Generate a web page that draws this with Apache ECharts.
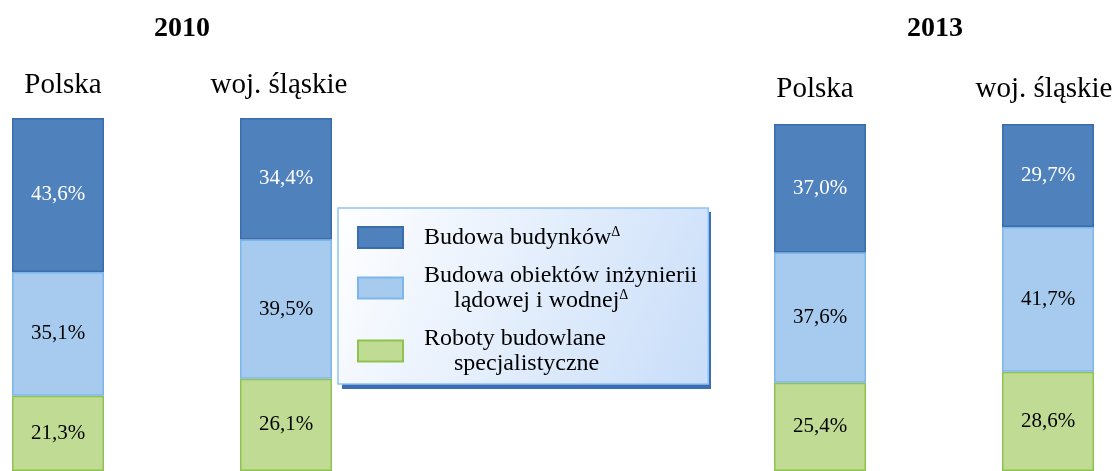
<!DOCTYPE html>
<html>
<head>
<meta charset="utf-8">
<script src="https://cdn.jsdelivr.net/npm/echarts@6/dist/echarts.min.js"></script>
<style>
  html, body { margin: 0; padding: 0; background: #ffffff; }
  #chart { width: 1116px; height: 471px; }
</style>
</head>
<body>
<div id="chart"></div>
<script>
// Datos (porcentajes)
const anios = ['2010', '2013'];
const regiones = ['Polska', 'woj. śląskie', 'Polska', 'woj. śląskie'];
const budynki = [43.6, 34.4, 37.0, 29.7];
const inzynieria = [35.1, 39.5, 37.6, 41.7];
const especializadas = [21.3, 26.1, 25.4, 28.6];

const nombres = [
  'Budowa budynków',
  'Budowa obiektów inżynierii lądowej i wodnej',
  'Roboty budowlane specjalistyczne'
];

let chart = null;

document.addEventListener('DOMContentLoaded', function() {
  initChart();
});

/**
 * Inicializar gráfico
 */
function initChart() {
  chart = echarts.init(document.getElementById('chart'), null, { renderer: 'canvas' });

  const fuente = 'Liberation Serif, Times New Roman, serif';

  // posición de cada columna (una rejilla por columna)
  const rejillas = [
    { left: 12, top: 118, height: 354, desplaz: 5, margen: 18 },
    { left: 240, top: 118, height: 354, desplaz: -7, margen: 18 },
    { left: 774, top: 124, height: 355, desplaz: -5, margen: 20 },
    { left: 1002, top: 124, height: 355, desplaz: -4, margen: 20 }
  ];

  const estilos = [
    { nombre: nombres[2], datos: especializadas, color: '#c0dc94', borde: '#8fc24f', texto: '#000000' },
    { nombre: nombres[1], datos: inzynieria, color: '#a7cbef', borde: '#7db6ea', texto: '#000000' },
    { nombre: nombres[0], datos: budynki, color: '#4f81bd', borde: '#3a6cb0', texto: '#ffffff' }
  ];

  const grid = [];
  const xAxis = [];
  const yAxis = [];
  const series = [];

  rejillas.forEach((r, i) => {
    grid.push({ left: r.left, top: r.top, width: 92, height: r.height });
    const pad = r.desplaz > 0 ? [0, 0, 0, 2 * r.desplaz] : [0, -2 * r.desplaz, 0, 0];
    xAxis.push({
      gridIndex: i,
      type: 'category',
      position: 'top',
      data: [regiones[i]],
      axisLine: { show: false },
      axisTick: { show: false },
      axisLabel: {
        margin: r.margen,
        fontFamily: fuente,
        fontSize: 29,
        color: '#000000',
        padding: pad
      }
    });
    yAxis.push({
      gridIndex: i,
      type: 'value',
      min: 0,
      max: 100,
      show: false
    });
    estilos.forEach(e => {
      series.push({
        name: e.nombre,
        type: 'bar',
        stack: 'total' + i,
        xAxisIndex: i,
        yAxisIndex: i,
        barWidth: '100%',
        data: [e.datos[i]],
        itemStyle: {
          color: e.color,
          borderColor: e.borde,
          borderWidth: 1.5
        },
        label: {
          show: true,
          position: 'inside',
          fontFamily: fuente,
          fontSize: 21,
          color: e.texto,
          formatter: p => p.value.toFixed(1).replace('.', ',') + '%'
        },
        emphasis: { disabled: true }
      });
    });
  });

  const etiquetasLeyenda = {};
  etiquetasLeyenda[nombres[0]] = 'Budowa budynków{sup|Δ}';
  etiquetasLeyenda[nombres[1]] = 'Budowa obiektów inżynierii\n{ind|lądowej i wodnej}{sup|Δ}';
  etiquetasLeyenda[nombres[2]] = 'Roboty budowlane\n{ind|specjalistyczne}';

  // sombra de la leyenda (decoración)
  const sombra = {
    type: 'rect',
    z: 0,
    shape: { x: 342, y: 212, width: 369, height: 177 },
    style: { fill: '#3c6cb3' }
  };

  const titulos = anios.map((a, i) => ({
    type: 'text',
    x: i === 0 ? 182 : 935,
    y: 29,
    style: {
      text: a,
      fontFamily: fuente,
      fontSize: 28,
      fontWeight: 'bold',
      fill: '#000000',
      align: 'center',
      verticalAlign: 'middle'
    }
  }));

  const option = {
    animation: false,
    backgroundColor: '#ffffff',
    grid: grid,
    xAxis: xAxis,
    yAxis: yAxis,
    legend: {
      data: nombres,
      orient: 'vertical',
      z: 5,
      left: 338,
      top: 208,
      padding: [17, 11, 8, 19],
      icon: 'rect',
      itemWidth: 45,
      itemHeight: 21,
      itemGap: 13,
      selectedMode: false,
      borderColor: '#8fc3f2',
      borderWidth: 1.5,
      backgroundColor: new echarts.graphic.LinearGradient(0, 0, 1, 1, [
        { offset: 0, color: '#ffffff' },
        { offset: 1, color: '#c8ddf9' }
      ]),
      formatter: n => etiquetasLeyenda[n],
      textStyle: {
        fontFamily: fuente,
        fontSize: 24,
        lineHeight: 25,
        color: '#000000',
        padding: [0, 0, 0, 16],
        rich: {
          ind: { fontFamily: fuente, fontSize: 24, lineHeight: 25, color: '#000000', padding: [0, 0, 0, 30] },
          sup: { fontFamily: fuente, fontSize: 14, lineHeight: 25, color: '#000000', verticalAlign: 'top' }
        }
      }
    },
    graphic: [sombra].concat(titulos),
    series: series
  };

  chart.setOption(option);

  window.addEventListener('resize', function() {
    if (chart) chart.resize();
  });
}
</script>
</body>
</html>
